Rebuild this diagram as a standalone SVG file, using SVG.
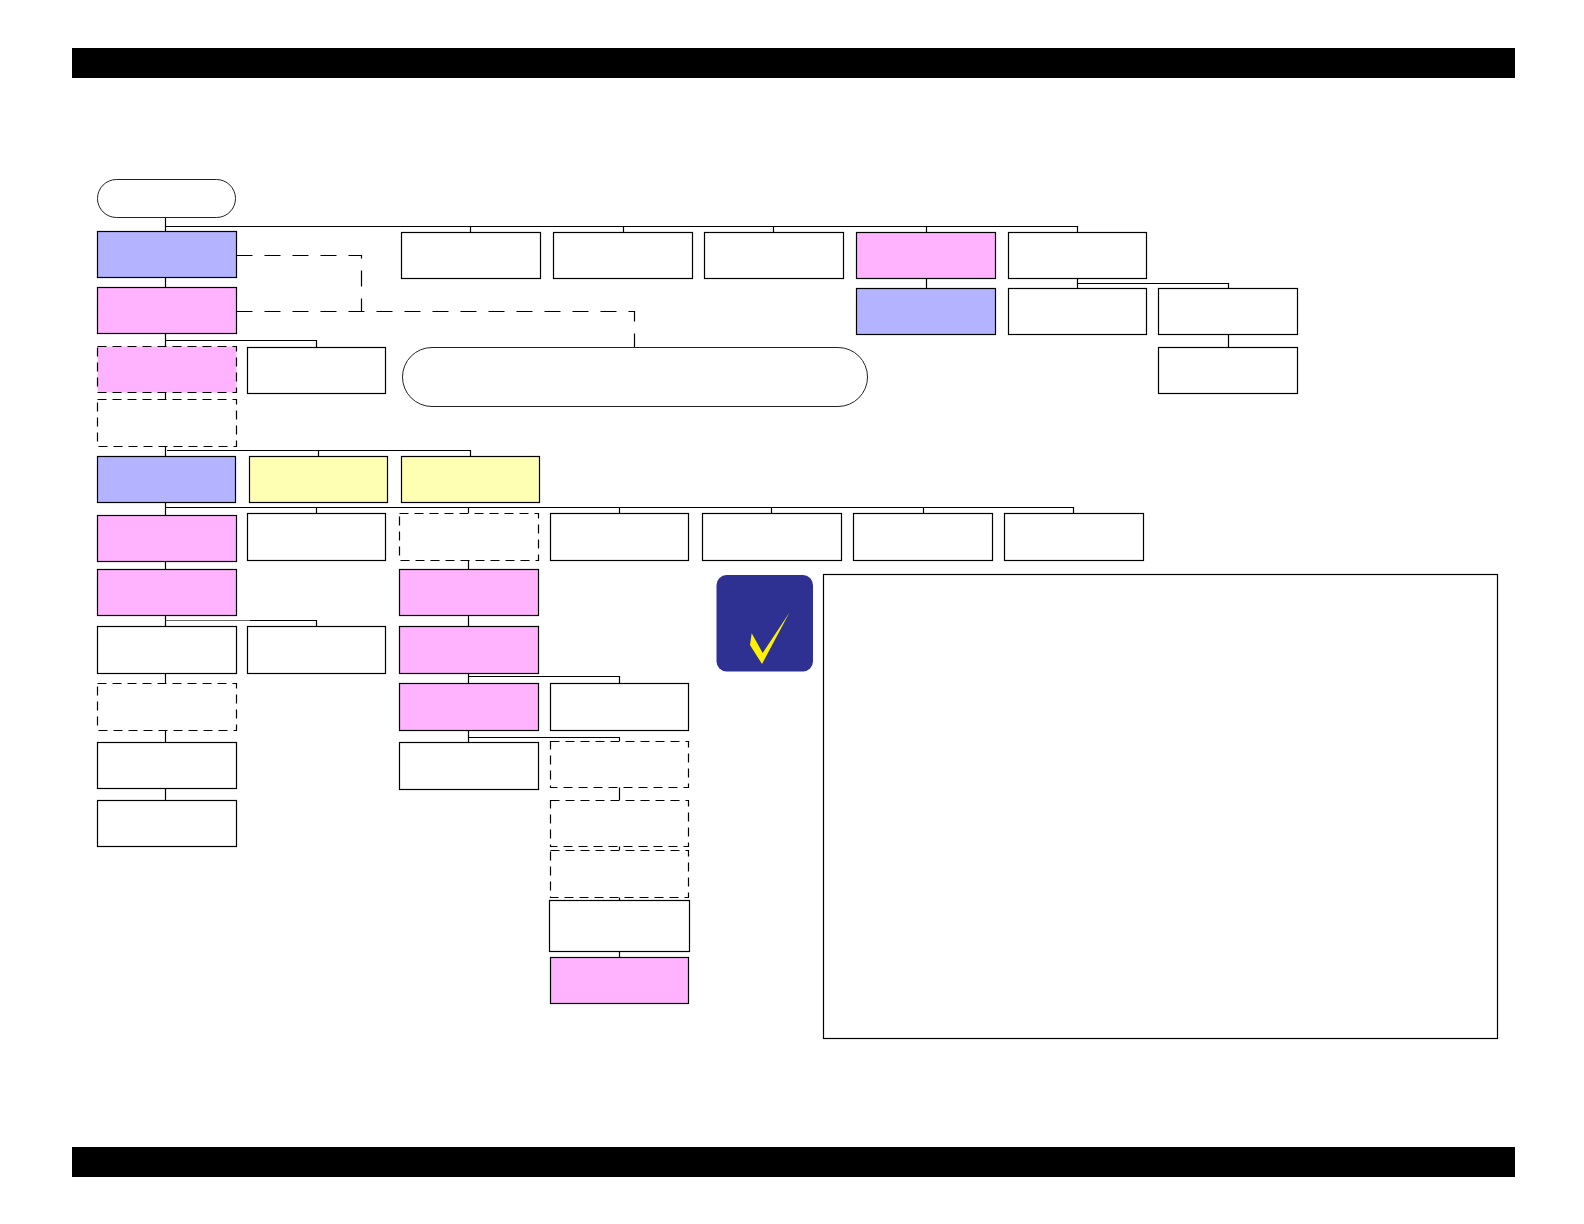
<svg xmlns="http://www.w3.org/2000/svg" width="1584" height="1224" viewBox="0 0 1584 1224">
<style>
.n{fill:#fff;stroke:#000;stroke-width:1.2}
.o{stroke:#222;stroke-width:1}
.d{stroke-dasharray:9 6}
.p{fill:#FFB3FF}
.b{fill:#B3B3FF}
.y{fill:#FFFFB3}
.c{fill:none;stroke:#000;stroke-width:1.2}
.l{stroke-dasharray:16 12}
</style>
<rect width="1584" height="1224" fill="#fff"/>
<g id="header"><rect x="72" y="48" width="1443" height="30" fill="#000"/></g>
<g id="footer"><rect x="72" y="1147" width="1443" height="30" fill="#000"/></g>
<g id="connectors">
<path class="c" d="M165.5 217V231.5M165.5 226.5H1077.5V232.5M470.5 226.5V232.5M623.5 226.5V232.5M773.5 226.5V232.5M926.5 226.5V232.5"/>
<path class="c" d="M926.5 278V288M1077.5 278V288M1077.5 283.5H1228.5V288M1228.5 334V347"/>
<path class="c" d="M165.5 277V287M165.5 333V346M165.5 340.5H316.5V347M165.5 392V399M165.5 446V456M167 450.5H470.5V456M318.5 450.5V456"/>
<path class="c l" d="M236.5 255.5H361.5V311.5"/>
<path class="c l" d="M236.5 311.5H634.5V347"/>
<path class="c" d="M165.5 502V515M165.5 507.5H1073.5V513M316.5 507.5V513M468.5 507.5V513M619.5 507.5V513M771.5 507.5V513M923.5 507.5V513"/>
<path class="c" d="M165.5 561V569M165.5 615V626M250 620.5H316.5V626M165.5 673V683M165.5 730V742M165.5 788V800"/>
<path class="c" stroke-opacity="0.6" d="M165.5 620.5H250"/>
<path class="c" d="M468.5 560V569M468.5 615V626M468.5 673V683M468.5 676.5H619.5V683M468.5 730V742M468.5 737.5H619.5V741M619.5 787V800M619.5 846V850M619.5 897V900M619.5 951V957"/>
</g>
<g id="start"><rect class="n o" x="97.5" y="179.5" width="138" height="38" rx="19"/></g>
<g id="n1"><rect class="n b" x="97.5" y="231.5" width="139" height="46"/></g>
<g id="n2"><rect class="n p" x="97.5" y="287.5" width="139" height="46"/></g>
<g id="n3"><rect class="n p d" x="97.5" y="346.5" width="139" height="46"/></g>
<g id="n4"><rect class="n" x="247.5" y="347.5" width="138" height="46"/></g>
<g id="n5"><rect class="n d" x="97.5" y="399.5" width="139" height="47"/></g>
<g id="t1"><rect class="n" x="401.5" y="232.5" width="139" height="46"/></g>
<g id="t2"><rect class="n" x="553.5" y="232.5" width="139" height="46"/></g>
<g id="t3"><rect class="n" x="704.5" y="232.5" width="139" height="46"/></g>
<g id="t4"><rect class="n p" x="856.5" y="232.5" width="139" height="46"/></g>
<g id="t5"><rect class="n" x="1008.5" y="232.5" width="138" height="46"/></g>
<g id="t6"><rect class="n b" x="856.5" y="288.5" width="139" height="46"/></g>
<g id="t7"><rect class="n" x="1008.5" y="288.5" width="138" height="46"/></g>
<g id="t8"><rect class="n" x="1158.5" y="288.5" width="139" height="46"/></g>
<g id="t9"><rect class="n" x="1158.5" y="347.5" width="139" height="46"/></g>
<g id="pill"><rect class="n o" x="402.5" y="347.5" width="465" height="59" rx="29.5"/></g>
<g id="m1"><rect class="n b" x="97.5" y="456.5" width="138" height="46"/></g>
<g id="m2"><rect class="n y" x="249.5" y="456.5" width="138" height="46"/></g>
<g id="m3"><rect class="n y" x="401.5" y="456.5" width="138" height="46"/></g>
<g id="r1"><rect class="n p" x="97.5" y="515.5" width="139" height="46"/></g>
<g id="r2"><rect class="n" x="247.5" y="513.5" width="138" height="47"/></g>
<g id="r3"><rect class="n d" x="399.5" y="513.5" width="139" height="47"/></g>
<g id="r4"><rect class="n" x="550.5" y="513.5" width="138" height="47"/></g>
<g id="r5"><rect class="n" x="702.5" y="513.5" width="139" height="47"/></g>
<g id="r6"><rect class="n" x="853.5" y="513.5" width="139" height="47"/></g>
<g id="r7"><rect class="n" x="1004.5" y="513.5" width="139" height="47"/></g>
<g id="l1"><rect class="n p" x="97.5" y="569.5" width="139" height="46"/></g>
<g id="l2"><rect class="n" x="97.5" y="626.5" width="139" height="47"/></g>
<g id="l3"><rect class="n" x="247.5" y="626.5" width="138" height="47"/></g>
<g id="l4"><rect class="n d" x="97.5" y="683.5" width="139" height="47"/></g>
<g id="l5"><rect class="n" x="97.5" y="742.5" width="139" height="46"/></g>
<g id="l6"><rect class="n" x="97.5" y="800.5" width="139" height="46"/></g>
<g id="c1"><rect class="n p" x="399.5" y="569.5" width="139" height="46"/></g>
<g id="c2"><rect class="n p" x="399.5" y="626.5" width="139" height="47"/></g>
<g id="c3"><rect class="n p" x="399.5" y="683.5" width="139" height="47"/></g>
<g id="c4"><rect class="n" x="550.5" y="683.5" width="138" height="47"/></g>
<g id="c5"><rect class="n" x="399.5" y="742.5" width="139" height="47"/></g>
<g id="c6"><rect class="n d" x="550.5" y="741.5" width="138" height="46"/></g>
<g id="c7"><rect class="n d" x="550.5" y="800.5" width="138" height="46"/></g>
<g id="c8"><rect class="n d" x="550.5" y="850.5" width="138" height="47"/></g>
<g id="c9"><rect class="n" x="549.5" y="900.5" width="140" height="51"/></g>
<g id="c10"><rect class="n p" x="550.5" y="957.5" width="138" height="46"/></g>
<g id="badge"><rect x="716.5" y="575" width="96.5" height="96.5" rx="10" fill="#2E3192"/><polygon points="789.5,612.5 762,664 750,645 751.7,633.3 762.7,653" fill="#FFF200"/></g>
<g id="note"><rect class="n" x="823.5" y="574.5" width="674" height="464"/></g>
</svg>
